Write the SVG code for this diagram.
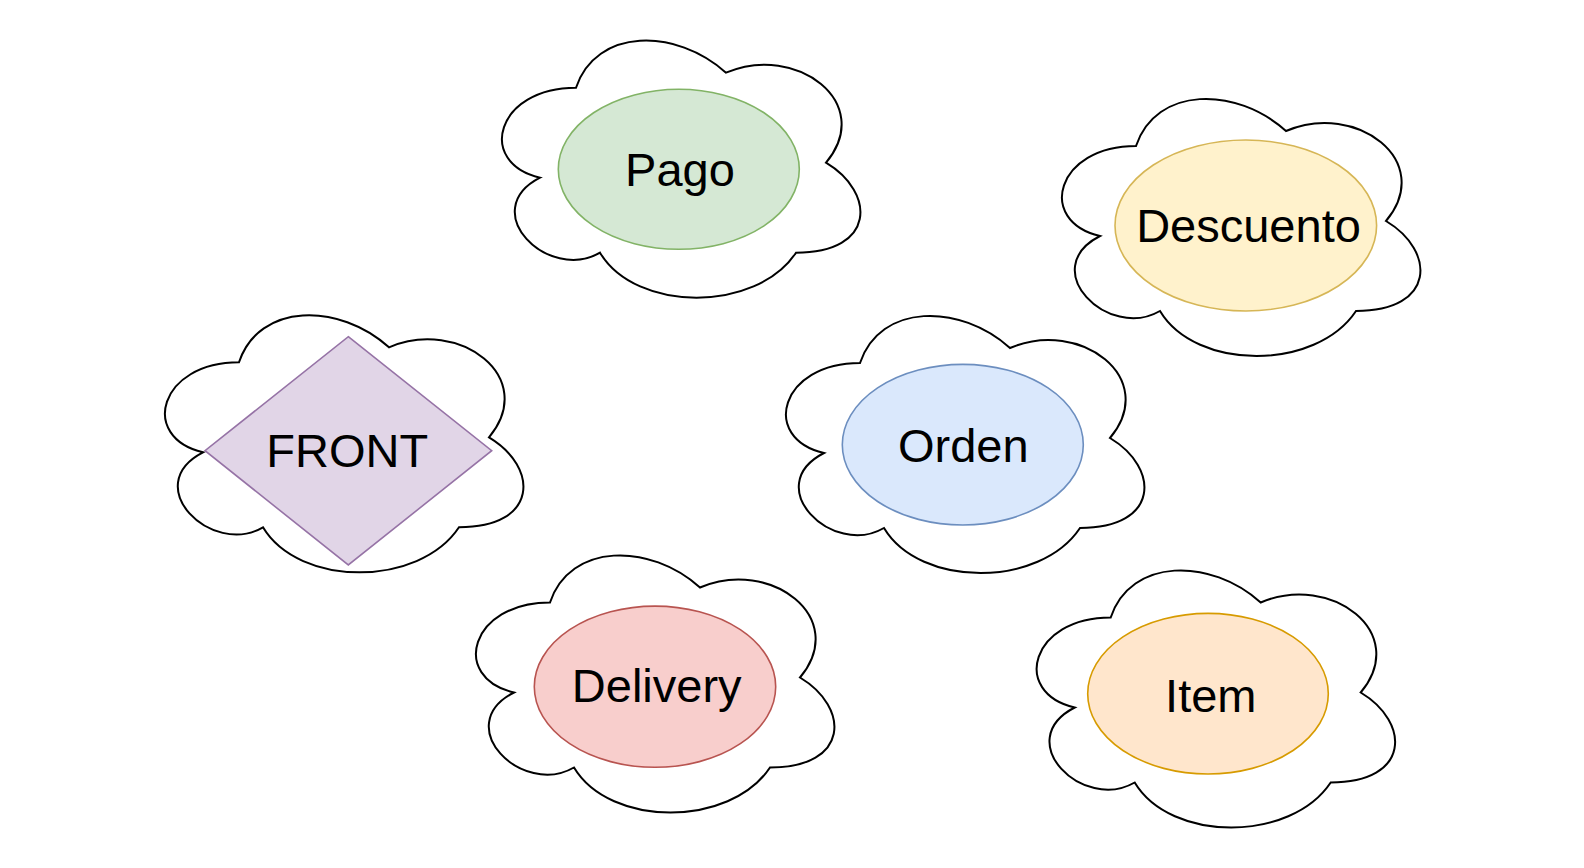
<svg xmlns="http://www.w3.org/2000/svg" xmlns:xlink="http://www.w3.org/1999/xlink" width="1584" height="868" viewBox="0 0 1584 868">
  <style>
    .cloud { fill: #ffffff; stroke: #000000; stroke-width: 2; }
    .lbl { font-family: "Liberation Sans", Arial, sans-serif; font-size: 47px; fill: #000000; text-anchor: middle; }
    .inner { stroke-width: 1.6; }
  </style>
  <defs>
    <path id="cloudShape" d="M100,75 C20,75 0,150 64,165 C0,198 72,270 124,240 C160,300 280,300 320,240 C400,240 400,180 350,150 C400,90 320,30 250,60 C200,15 120,15 100,75 Z"/>
  </defs>
  <rect width="1584" height="868" fill="#ffffff"/>
  <g id="connectors"/>
  <g id="pago">
    <use xlink:href="#cloudShape" href="#cloudShape" class="cloud" transform="translate(476,12.7)"/>
    <ellipse class="inner" cx="678.8" cy="169.3" rx="120.5" ry="80" fill="#d5e8d4" stroke="#82b366"/>
    <text class="lbl" x="680" y="186">Pago</text>
  </g>
  <g id="descuento">
    <use xlink:href="#cloudShape" href="#cloudShape" class="cloud" transform="translate(1036,71)"/>
    <ellipse class="inner" cx="1245.8" cy="225.5" rx="130.8" ry="85.5" fill="#fff2cc" stroke="#d6b656"/>
    <text class="lbl" x="1248.5" y="242.3">Descuento</text>
  </g>
  <g id="front">
    <use xlink:href="#cloudShape" href="#cloudShape" class="cloud" transform="translate(139,287.3)"/>
    <polygon class="inner" points="348.3,336.7 491.7,450.7 348.3,565 205,450.7" fill="#e1d5e7" stroke="#9673a6"/>
    <text class="lbl" x="347.2" y="467.3">FRONT</text>
  </g>
  <g id="orden">
    <use xlink:href="#cloudShape" href="#cloudShape" class="cloud" transform="translate(760,288)"/>
    <ellipse class="inner" cx="962.8" cy="444.7" rx="120.5" ry="80.3" fill="#dae8fc" stroke="#6c8ebf"/>
    <text class="lbl" x="963.3" y="462.3">Orden</text>
  </g>
  <g id="delivery">
    <use xlink:href="#cloudShape" href="#cloudShape" class="cloud" transform="translate(450,527.5)"/>
    <ellipse class="inner" cx="655" cy="686.7" rx="120.7" ry="80.6" fill="#f8cecc" stroke="#b85450"/>
    <text class="lbl" x="656.7" y="702.3">Delivery</text>
  </g>
  <g id="item">
    <use xlink:href="#cloudShape" href="#cloudShape" class="cloud" transform="translate(1010.7,542.5)"/>
    <ellipse class="inner" cx="1208" cy="693.7" rx="120.3" ry="80.3" fill="#ffe6cc" stroke="#d79b00"/>
    <text class="lbl" x="1210.8" y="712.3">Item</text>
  </g>
</svg>
